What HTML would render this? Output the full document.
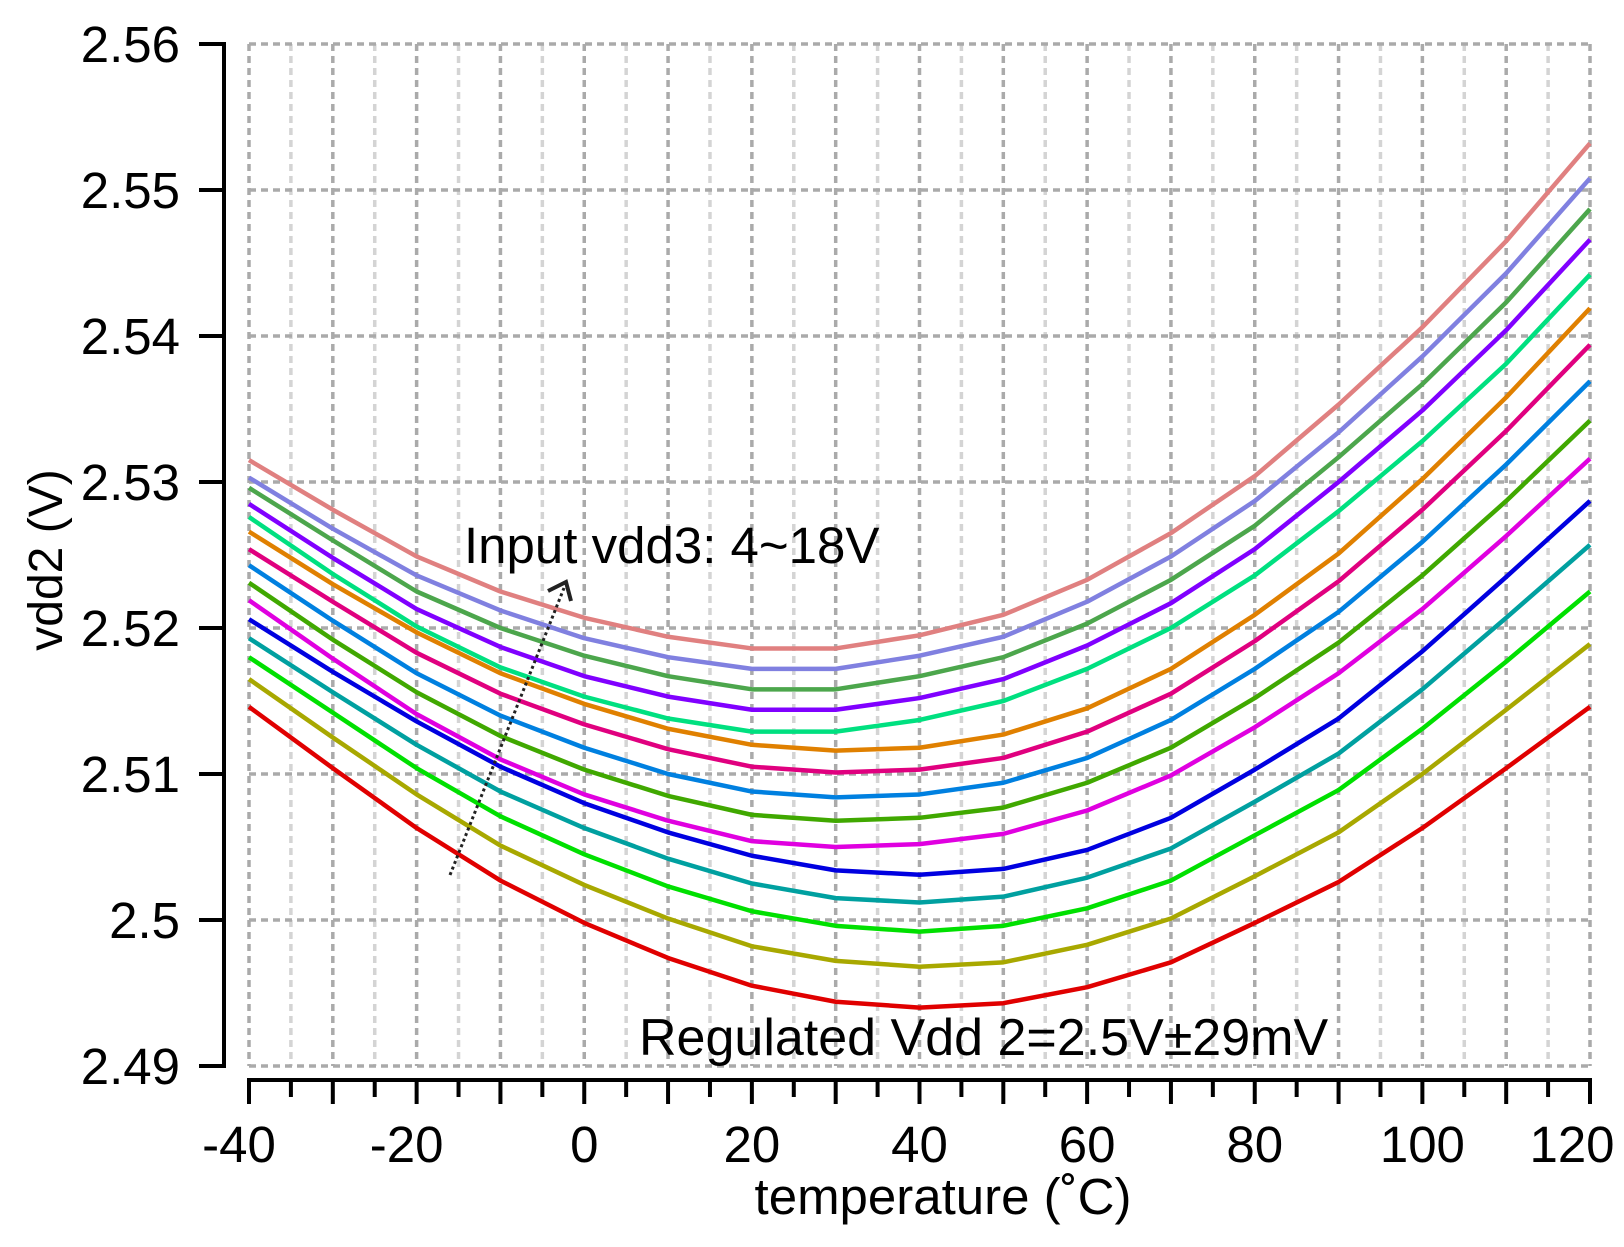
<!DOCTYPE html>
<html><head><meta charset="utf-8"><style>
html,body{margin:0;padding:0;background:#fff;}
svg{display:block;font-family:"Liberation Sans",Arial,sans-serif;}
</style></head><body>
<svg id="chart" width="1624" height="1247" viewBox="0 0 1624 1247" xmlns="http://www.w3.org/2000/svg">
<g id="grid"></g>
<g id="series"></g>
<g id="axes"></g>
<text x="0" y="0" transform="translate(62,560) rotate(-90)" text-anchor="middle" font-size="48">vdd2 (V)</text>
<text x="943" y="1214" text-anchor="middle" font-size="51">temperature (˚C)</text>
<text x="464" y="563" font-size="51">Input vdd3: 4~18V</text>
<text x="639" y="1055" font-size="52">Regulated Vdd 2=2.5V±29mV</text>
<line x1="450" y1="875" x2="564" y2="588" stroke="#222" stroke-width="3" stroke-dasharray="3,3"/>
<path d="M548,591 L566,582 L571,601" fill="none" stroke="#222" stroke-width="4"/>
</svg>
<script>
const temps = [-40,-30,-20,-10,0,10,20,30,40,50,60,70,80,90,100,110,120];
const xTicks = [-40,-20,0,20,40,60,80,100,120];
const yTicks = [2.49,2.50,2.51,2.52,2.53,2.54,2.55,2.56];
const yTickLabels = ["2.49","2.5","2.51","2.52","2.53","2.54","2.55","2.56"];
const seriesColors = ["#e08080","#8080e0","#4ca64c","#8000ff","#00e080","#e08000","#e0007f","#0080e0","#40a800","#e000e0","#0000e0","#00a0a0","#00e000","#a8a800","#e00000"];
// values in mV above 2.49 V
const s1 = [41.5,38.1,34.9,32.5,30.7,29.4,28.6,28.6,29.5,30.9,33.3,36.5,40.4,45.3,50.6,56.5,63.2];
const s2 = [40.3,36.8,33.6,31.2,29.3,28.0,27.2,27.2,28.1,29.4,31.8,34.9,38.7,43.4,48.6,54.3,60.8];
const s3 = [39.6,36.0,32.5,30.0,28.1,26.7,25.8,25.8,26.7,28.0,30.3,33.3,37.0,41.7,46.7,52.3,58.7];
const s4 = [38.5,34.8,31.3,28.7,26.7,25.3,24.4,24.4,25.2,26.5,28.8,31.7,35.4,40.0,44.9,50.4,56.6];
const s5 = [37.6,33.7,30.1,27.3,25.3,23.8,22.9,22.9,23.7,25.0,27.2,30.0,33.6,38.0,42.8,48.1,54.2];
const s6 = [36.6,33.0,29.7,26.9,24.8,23.1,22.0,21.6,21.8,22.7,24.5,27.2,30.9,35.1,40.2,45.8,51.9];
const s7 = [35.4,31.8,28.3,25.5,23.4,21.7,20.5,20.1,20.3,21.1,22.9,25.5,29.1,33.2,38.1,43.5,49.4];
const s8 = [34.3,30.5,26.9,24.0,21.8,20.0,18.8,18.4,18.6,19.4,21.1,23.7,27.2,31.1,35.9,41.2,46.9];
const s9 = [33.1,29.2,25.6,22.6,20.3,18.5,17.2,16.8,17.0,17.7,19.4,21.8,25.2,29.0,33.6,38.7,44.2];
const s10 = [31.9,27.9,24.1,21.0,18.6,16.8,15.4,15.0,15.2,15.9,17.5,19.9,23.2,26.9,31.3,36.3,41.6];
const s11 = [30.6,27.0,23.6,20.5,18.0,16.0,14.4,13.4,13.1,13.5,14.8,17.0,20.3,23.8,28.4,33.5,38.7];
const s12 = [29.3,25.6,22.0,18.8,16.3,14.2,12.5,11.5,11.2,11.6,12.9,14.9,18.1,21.4,25.8,30.7,35.7];
const s13 = [28.0,24.2,20.4,17.1,14.5,12.3,10.6,9.6,9.2,9.6,10.8,12.7,15.8,18.9,23.1,27.7,32.5];
const s14 = [26.5,22.5,18.6,15.1,12.4,10.1,8.2,7.2,6.8,7.1,8.3,10.1,13.0,16.0,20.0,24.4,28.9];
const s15 = [24.6,20.4,16.3,12.7,9.8,7.4,5.5,4.4,4.0,4.3,5.4,7.1,9.8,12.6,16.3,20.4,24.6];
const allSeries = [s1,s2,s3,s4,s5,s6,s7,s8,s9,s10,s11,s12,s13,s14,s15];

const NS = "http://www.w3.org/2000/svg";
const X0=249, X1=1590, Y0=1066, Y1=44;
function xs(t){ return X0 + (t+40)/160*(X1-X0); }
function ys(v){ return Y0 - (v-2.49)/0.07*(Y0-Y1); }
function mk(tag, attrs, parent){
  const e=document.createElementNS(NS,tag);
  for(const k in attrs) e.setAttribute(k,attrs[k]);
  parent.appendChild(e); return e;
}
const grid=document.getElementById('grid');
for(let t=-40;t<=120;t+=5){
  const major = (t%10===0);
  const l=mk('line',{x1:xs(t),x2:xs(t),y1:Y1,y2:Y0,stroke:major?'#aaaaaa':'#d4d4d4','stroke-width':3.5,'stroke-dasharray':'7,5'},grid);
  
  
}
yTicks.forEach(v=>{
  const l=mk('line',{x1:X0,x2:X1,y1:ys(v),y2:ys(v),stroke:'#aaaaaa','stroke-width':3.5,'stroke-dasharray':'7,5'},grid);
  
  
});
const series=document.getElementById('series');
allSeries.forEach((arr,i)=>{
  const pts=arr.map((v,j)=>xs(temps[j])+','+ys(2.49+v/1000)).join(' ');
  const p=mk('polyline',{points:pts,fill:'none',stroke:seriesColors[i],'stroke-width':4.5,'stroke-linejoin':'round'},series);
  
  
});
const axes=document.getElementById('axes');
const ya=mk('line',{x1:224,x2:224,y1:Y1-2,y2:Y0+2,stroke:'#000','stroke-width':4},axes);


yTicks.forEach((v,i)=>{
  const tk=mk('line',{x1:199,x2:224,y1:ys(v),y2:ys(v),stroke:'#000','stroke-width':4},axes);
  
  
  const tx=mk('text',{x:180,y:ys(v)+18,'text-anchor':'end','font-size':51},axes);
  tx.textContent=yTickLabels[i];
  
  
});
const xa=mk('line',{x1:X0-2,x2:X1+2,y1:1080,y2:1080,stroke:'#000','stroke-width':4},axes);


for(let t=-40;t<=120;t+=5){
  const major=(t%10===0);
  const tk=mk('line',{x1:xs(t),x2:xs(t),y1:1080,y2:major?1104:1097,stroke:'#000','stroke-width':4},axes);
  
  
}
xTicks.forEach(t=>{
  const x = t===120 ? 1572 : xs(t) - (t<0 ? 10 : 0);
  const tx=mk('text',{x:x,y:1162,'text-anchor':'middle','font-size':51},axes);
  tx.textContent=String(t);
  
  
});
</script>
</body></html>
